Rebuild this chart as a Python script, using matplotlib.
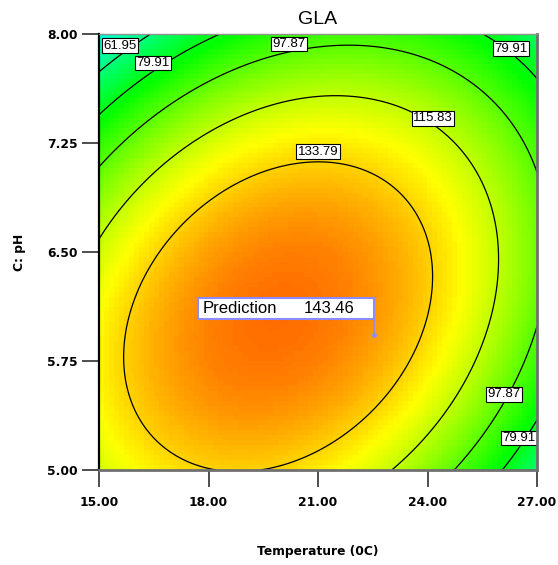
import numpy as np
import matplotlib
matplotlib.use("Agg")
import matplotlib.pyplot as plt
from matplotlib.colors import LinearSegmentedColormap
from matplotlib.patches import Rectangle

# ---- chart content -------------------------------------------------------
title = "GLA"
x_label = "Temperature (0C)"
y_label = "C: pH"
temp_range = [15.0, 27.0]
ph_range = [5.0, 8.0]
x_ticks = [15.00, 18.00, 21.00, 24.00, 27.00]
y_ticks = [5.00, 5.75, 6.50, 7.25, 8.00]

# Quadratic response model in coded units (-1..1):
# GLA = b0 + A*a + C*c + AC*a*c + A2*a^2 + C2*c^2
coef_names = ["b0", "A", "C", "AC", "A2", "C2"]
coef_values = [147.67, -7.87, -18.35, 19.30, -37.35, -36.80]

contour_levels = [61.95, 79.91, 97.87, 115.83, 133.79]

# contour label placement (value, temperature, pH)
label_values = [61.95, 79.91, 97.87, 79.91, 115.83, 133.79, 97.87, 79.91]
label_temp = [15.58, 16.48, 20.21, 26.29, 24.15, 21.00, 26.10, 26.51]
label_ph = [7.92, 7.80, 7.93, 7.90, 7.42, 7.19, 5.52, 5.22]

pred_label = "Prediction"
pred_value = 143.46
pred_temp = 22.53
pred_ph = 5.93


def response(t, p):
    b = dict(zip(coef_names, coef_values))
    a = (t - (temp_range[0] + temp_range[1]) / 2) / ((temp_range[1] - temp_range[0]) / 2)
    c = (p - (ph_range[0] + ph_range[1]) / 2) / ((ph_range[1] - ph_range[0]) / 2)
    return (b["b0"] + b["A"] * a + b["C"] * c + b["AC"] * a * c
            + b["A2"] * a ** 2 + b["C2"] * c ** 2)


# blue -> cyan -> green -> yellow -> red surface colouring
cmap = LinearSegmentedColormap.from_list(
    "surface", ["#0000ff", "#00ffff", "#00ff00", "#ffff00", "#ff0000"])
vmin, vmax = -4.0, 170.0

fig = plt.figure(figsize=(5.58, 5.65), dpi=100)
ax = fig.add_axes([99 / 558, 1 - 470 / 565, 438 / 558, 436 / 565])

# coarse colour cells
n_cells = 88
dt = (temp_range[1] - temp_range[0]) / n_cells
dp = (ph_range[1] - ph_range[0]) / n_cells
tc = np.linspace(temp_range[0] + dt / 2, temp_range[1] - dt / 2, n_cells)
pc = np.linspace(ph_range[0] + dp / 2, ph_range[1] - dp / 2, n_cells)
TC, PC = np.meshgrid(tc, pc)
ax.imshow(response(TC, PC), origin="lower", cmap=cmap, vmin=vmin, vmax=vmax,
          extent=[temp_range[0], temp_range[1], ph_range[0], ph_range[1]],
          aspect="auto", interpolation="nearest", zorder=1)

# smooth contour lines
tf = np.linspace(temp_range[0], temp_range[1], 500)
pf = np.linspace(ph_range[0], ph_range[1], 500)
TF, PF = np.meshgrid(tf, pf)
ax.contour(TF, PF, response(TF, PF), levels=contour_levels,
           colors="black", linewidths=0.9, zorder=2)

for val, t, p in zip(label_values, label_temp, label_ph):
    ax.text(t, p, f"{val:.2f}", ha="center", va="center", fontsize=9.5,
            family="Liberation Sans", color="black", zorder=4,
            bbox=dict(boxstyle="square,pad=0.1", fc="white", ec="black", lw=0.8))

# prediction flag
box_w, box_h, box_gap = 4.82, 0.145, 0.11
box_left = pred_temp - box_w
box_bottom = pred_ph + box_gap
flag_color = "#8c8cff"
ax.add_patch(Rectangle((box_left, box_bottom), box_w, box_h, fc="white",
                       ec=flag_color, lw=1.5, zorder=5))
ax.plot([pred_temp, pred_temp], [pred_ph, box_bottom], color=flag_color,
        lw=1.2, zorder=5)
ax.plot([pred_temp], [pred_ph], marker="o", ms=2.5, color=flag_color, zorder=6)
ax.text(box_left + 0.12, box_bottom + box_h / 2, pred_label, ha="left",
        va="center", fontsize=12, family="Liberation Sans", zorder=6)
ax.text(20.62, box_bottom + box_h / 2, f"{pred_value:.2f}", ha="left",
        va="center", fontsize=12, family="Liberation Sans", zorder=6)

ax.set_xlim(temp_range)
ax.set_ylim(ph_range)
ax.set_xticks(x_ticks)
ax.set_yticks(y_ticks)
ax.set_xticklabels([f"{v:.2f}" for v in x_ticks])
ax.set_yticklabels([f"{v:.2f}" for v in y_ticks])
ax.tick_params(axis="both", direction="out", length=12, width=1.3,
               color="#404040", labelsize=8.8)
ax.tick_params(axis="x", pad=6.5)
ax.tick_params(axis="y", pad=3.6)
for lab in ax.get_xticklabels() + ax.get_yticklabels():
    lab.set_fontweight("bold")

ax.spines["left"].set_color("black")
ax.spines["left"].set_linewidth(1.6)
ax.spines["bottom"].set_color("#707070")
ax.spines["bottom"].set_linewidth(2.0)
ax.spines["right"].set_color("#707070")
ax.spines["right"].set_linewidth(2.0)
ax.spines["top"].set_color("#909090")
ax.spines["top"].set_linewidth(1.0)
for s in ax.spines.values():
    s.set_zorder(7)

ax.set_xlabel(x_label, fontsize=8.8, fontweight="bold", labelpad=26)
ax.set_ylabel(y_label, fontsize=8.8, fontweight="bold", labelpad=15)
ax.set_title(title, fontsize=14, family="Liberation Sans", pad=7)

fig.savefig("out.png", dpi=100)
